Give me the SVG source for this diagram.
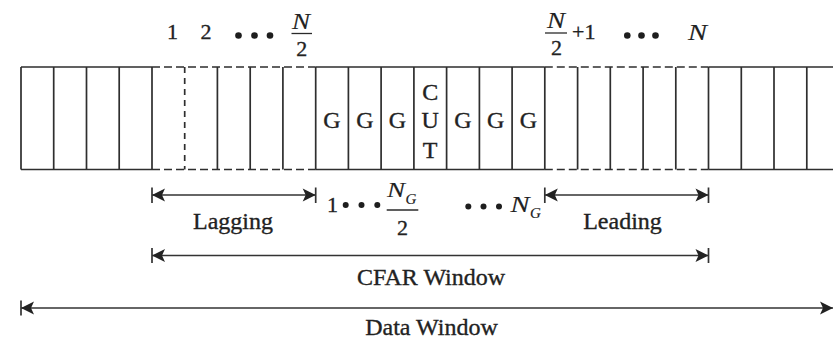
<svg xmlns="http://www.w3.org/2000/svg" width="833" height="342" viewBox="0 0 833 342">
  <defs>
    <style>
      .cell { stroke: #2e2e2e; stroke-width: 1.7; fill: none; }
      .dash { stroke: #2e2e2e; stroke-width: 1.7; fill: none; stroke-dasharray: 8 4; }
      .vdash { stroke: #2e2e2e; stroke-width: 1.7; fill: none; stroke-dasharray: 6 5; }
      .lbl { font-family: "Liberation Serif", "Times New Roman", serif; fill: #222; stroke: #222; stroke-width: 0.35; }
      .big { font-size: 24px; }
      .num { font-size: 22px; }
      .it { font-style: italic; stroke-width: 0.15; }
      .dot { fill: #1e1e1e; stroke: none; }
      .bar { stroke: #2a2a2a; stroke-width: 1.3; }
      .dim { stroke: #333; stroke-width: 1.7; fill: none; }
      .tick { stroke: #333; stroke-width: 1.7; }
    </style>
    <marker id="head" markerUnits="userSpaceOnUse" markerWidth="16" markerHeight="16" viewBox="-14 -8 16 16" refX="0" refY="0" orient="auto-start-reverse">
      <path d="M0,0 L-13,-6.5 L-10,0 L-13,6.5 Z" fill="#222"/>
    </marker>
  </defs>

  <rect width="833" height="342" fill="#ffffff"/>

  <!-- row of range cells -->
  <g id="cells">
    <!-- top and bottom borders -->
    <path class="cell" d="M21,67 H152 M315.7,67 H544.8 M708.5,67 H833 M21,169.5 H152 M315.7,169.5 H544.8 M708.5,169.5 H833"/>
    <path class="dash" d="M152,67 H315.7 M544.8,67 H708.5 M152,169.5 H315.7 M544.8,169.5 H708.5"/>
    <!-- cell dividers -->
    <path class="cell" d="M21,67 V169.5 M53.7,67 V169.5 M86.5,67 V169.5 M119.2,67 V169.5 M152,67 V169.5
      M217.4,67 V169.5 M250.2,67 V169.5 M282.9,67 V169.5 M315.7,67 V169.5 M348.4,67 V169.5
      M381.1,67 V169.5 M413.9,67 V169.5 M446.6,67 V169.5 M479.4,67 V169.5 M512.1,67 V169.5
      M544.8,67 V169.5 M577.6,67 V169.5 M610.3,67 V169.5 M643.1,67 V169.5 M675.8,67 V169.5
      M708.5,67 V169.5 M741.3,67 V169.5 M774,67 V169.5 M806.8,67 V169.5"/>
    <path class="vdash" d="M184.7,67 V169.5"/>
  </g>

  <!-- guard cells and cell under test -->
  <g id="guard-cells" class="lbl big" text-anchor="middle">
    <text x="332" y="128">G</text>
    <text x="364.8" y="128">G</text>
    <text x="397.5" y="128">G</text>
    <text x="463" y="128">G</text>
    <text x="495.7" y="128">G</text>
    <text x="528.5" y="128">G</text>
  </g>
  <g id="cut" class="lbl big" text-anchor="middle">
    <text x="430.2" y="100">C</text>
    <text x="430.2" y="128">U</text>
    <text x="430.2" y="157.5">T</text>
  </g>

  <!-- lagging cell indices -->
  <g id="lagging-index" class="lbl num">
    <text x="172.5" y="38.5" text-anchor="middle">1</text>
    <text x="206" y="38.5" text-anchor="middle">2</text>
    <circle class="dot" cx="238.5" cy="35.5" r="3.3"/>
    <circle class="dot" cx="254.5" cy="35.5" r="3.3"/>
    <circle class="dot" cx="270" cy="35.5" r="3.3"/>
    <text class="it" x="292" y="28.5" font-size="24" textLength="18" lengthAdjust="spacingAndGlyphs">N</text>
    <line class="bar" x1="291.5" y1="33.5" x2="312" y2="33.5"/>
    <text x="301.7" y="55.5" text-anchor="middle">2</text>
  </g>

  <!-- leading cell indices -->
  <g id="leading-index" class="lbl num">
    <text class="it" x="547" y="28" font-size="24" textLength="18" lengthAdjust="spacingAndGlyphs">N</text>
    <line class="bar" x1="545" y1="33" x2="567" y2="33"/>
    <text x="556.5" y="54.5" text-anchor="middle">2</text>
    <text x="572" y="38.5">+1</text>
    <circle class="dot" cx="627.3" cy="35.5" r="3.3"/>
    <circle class="dot" cx="641.5" cy="35.5" r="3.3"/>
    <circle class="dot" cx="655.5" cy="35.5" r="3.3"/>
    <text class="it" x="688" y="39.5" font-size="24" textLength="19" lengthAdjust="spacingAndGlyphs">N</text>
  </g>

  <!-- guard cell indices -->
  <g id="guard-index" class="lbl">
    <text x="332.5" y="212" font-size="22" text-anchor="middle">1</text>
    <circle class="dot" cx="345.7" cy="205" r="3"/>
    <circle class="dot" cx="361.5" cy="205" r="3"/>
    <circle class="dot" cx="377.3" cy="205" r="3"/>
    <text class="it" x="387" y="197" font-size="22" textLength="18" lengthAdjust="spacingAndGlyphs">N</text>
    <text class="it" x="405.5" y="203.5" font-size="15">G</text>
    <line class="bar" x1="386.7" y1="210" x2="418.3" y2="210"/>
    <text x="402.5" y="235" font-size="22" text-anchor="middle">2</text>
    <circle class="dot" cx="468.3" cy="206.5" r="3"/>
    <circle class="dot" cx="483.5" cy="206.5" r="3"/>
    <circle class="dot" cx="499" cy="206.5" r="3"/>
    <text class="it" x="510.5" y="211.5" font-size="23" textLength="19" lengthAdjust="spacingAndGlyphs">N</text>
    <text class="it" x="530" y="218" font-size="15">G</text>
  </g>

  <!-- span connectors -->
  <g id="connectors">
    <line class="dim" x1="152" y1="195" x2="315.7" y2="195" marker-start="url(#head)" marker-end="url(#head)"/>
    <line class="tick" x1="152" y1="187.5" x2="152" y2="203"/>
    <line class="tick" x1="315.7" y1="187.5" x2="315.7" y2="203"/>

    <line class="dim" x1="544.8" y1="195" x2="708.5" y2="195" marker-start="url(#head)" marker-end="url(#head)"/>
    <line class="tick" x1="544.8" y1="187.5" x2="544.8" y2="203"/>
    <line class="tick" x1="708.5" y1="187.5" x2="708.5" y2="203"/>

    <line class="dim" x1="152" y1="255.5" x2="708.5" y2="255.5" marker-start="url(#head)" marker-end="url(#head)"/>
    <line class="tick" x1="152" y1="248" x2="152" y2="263"/>
    <line class="tick" x1="708.5" y1="248" x2="708.5" y2="263"/>

    <line class="dim" x1="21" y1="308" x2="833" y2="308" marker-start="url(#head)" marker-end="url(#head)"/>
    <line class="tick" x1="21" y1="300.5" x2="21" y2="315.5"/>
  </g>

  <!-- span labels -->
  <g id="span-labels" class="lbl big" text-anchor="middle">
    <text x="233" y="229">Lagging</text>
    <text x="622.5" y="228.5">Leading</text>
    <text x="431" y="285">CFAR Window</text>
    <text x="431.5" y="335">Data Window</text>
  </g>
</svg>
